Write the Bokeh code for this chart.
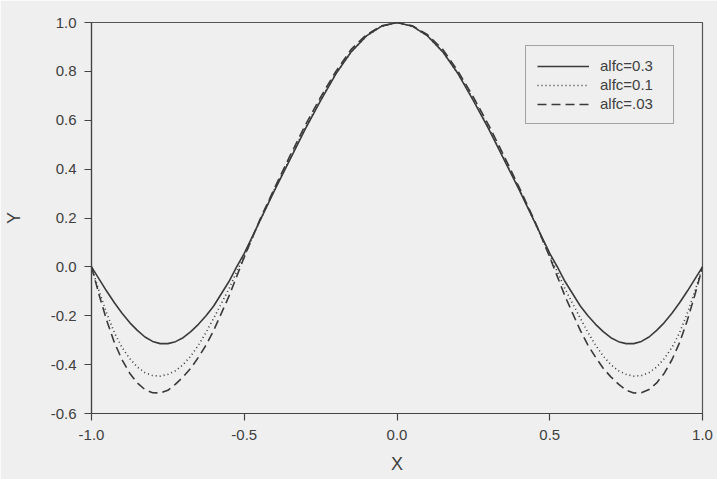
from bokeh.plotting import figure
from bokeh.models import ColumnDataSource, Legend, LegendItem, FixedTicker, Range1d
from bokeh.embed import file_html
from bokeh.resources import INLINE

# ---- data ----
x_vals = [-1.0, -0.975, -0.95, -0.925, -0.9, -0.875, -0.85, -0.825, -0.8, -0.775,
          -0.75, -0.725, -0.7, -0.675, -0.65, -0.625, -0.6, -0.575, -0.55, -0.525,
          -0.5, -0.45, -0.4, -0.35, -0.3, -0.25, -0.2, -0.15, -0.1, -0.05, 0.0,
          0.05, 0.1, 0.15, 0.2, 0.25, 0.3, 0.35, 0.4, 0.45, 0.5,
          0.525, 0.55, 0.575, 0.6, 0.625, 0.65, 0.675, 0.7, 0.725, 0.75,
          0.775, 0.8, 0.825, 0.85, 0.875, 0.9, 0.925, 0.95, 0.975, 1.0]

y_alfc_03 = [0.0, -0.05, -0.1, -0.147, -0.19, -0.228, -0.26, -0.287, -0.305, -0.314,
             -0.314, -0.306, -0.29, -0.265, -0.235, -0.2, -0.16, -0.11, -0.06, 0.0,
             0.055, 0.185, 0.315, 0.44, 0.565, 0.68, 0.79, 0.88, 0.945, 0.985, 1.0,
             0.985, 0.945, 0.88, 0.79, 0.68, 0.565, 0.44, 0.315, 0.185, 0.055,
             0.0, -0.06, -0.11, -0.16, -0.2, -0.235, -0.265, -0.29, -0.306, -0.314,
             -0.314, -0.305, -0.287, -0.26, -0.228, -0.19, -0.147, -0.1, -0.05, 0.0]

y_alfc_01 = [0.0, -0.1, -0.19, -0.27, -0.33, -0.375, -0.41, -0.433, -0.445, -0.447,
             -0.44, -0.425, -0.4, -0.365, -0.32, -0.268, -0.21, -0.15, -0.09, -0.02,
             0.045, 0.185, 0.32, 0.445, 0.57, 0.685, 0.79, 0.88, 0.945, 0.985, 1.0,
             0.985, 0.945, 0.88, 0.79, 0.685, 0.57, 0.445, 0.32, 0.185, 0.045,
             -0.02, -0.09, -0.15, -0.21, -0.268, -0.32, -0.365, -0.4, -0.425, -0.44,
             -0.447, -0.445, -0.433, -0.41, -0.375, -0.33, -0.27, -0.19, -0.1, 0.0]

y_alfc_003 = [0.0, -0.115, -0.22, -0.31, -0.38, -0.435, -0.475, -0.502, -0.515, -0.516,
              -0.505, -0.48, -0.45, -0.415, -0.37, -0.32, -0.26, -0.19, -0.12, -0.04,
              0.04, 0.19, 0.325, 0.455, 0.58, 0.695, 0.8, 0.89, 0.95, 0.987, 1.0,
              0.987, 0.95, 0.89, 0.8, 0.695, 0.58, 0.455, 0.325, 0.19, 0.04,
              -0.04, -0.12, -0.19, -0.26, -0.32, -0.37, -0.415, -0.45, -0.48, -0.505,
              -0.516, -0.515, -0.502, -0.475, -0.435, -0.38, -0.31, -0.22, -0.115, 0.0]

series_labels = ["alfc=0.3", "alfc=0.1", "alfc=.03"]
x_ticks = [-1.0, -0.5, 0.0, 0.5, 1.0]
y_ticks = [-0.6, -0.4, -0.2, 0.0, 0.2, 0.4, 0.6, 0.8, 1.0]

BG = "#efefef"
INK = "#3a3a3a"
TXT = "#404040"
FONT = "Liberation Sans"

p = figure(width=717, height=479, output_backend="svg", toolbar_location=None,
           x_range=Range1d(-1.0, 1.0), y_range=Range1d(-0.6, 1.0),
           min_border_left=91, min_border_right=15, min_border_top=22, min_border_bottom=66)

p.background_fill_color = BG
p.border_fill_color = BG
p.outline_line_color = "#555555"
p.outline_line_width = 1.2
p.grid.visible = False

src = ColumnDataSource(dict(x=x_vals, a=y_alfc_03, b=y_alfc_01, c=y_alfc_003))
r1 = p.line("x", "a", source=src, line_color=INK, line_width=1.6)
r2 = p.line("x", "b", source=src, line_color=INK, line_width=1.6, line_dash="1 3")
r3 = p.line("x", "c", source=src, line_color=INK, line_width=1.6, line_dash="9 5")

for ax in (p.xaxis[0], p.yaxis[0]):
    ax.axis_line_color = "#444444"
    ax.axis_line_width = 1.2
    ax.major_tick_line_color = "#444444"
    ax.major_tick_line_width = 1.2
    ax.major_tick_in = 0
    ax.major_tick_out = 7
    ax.minor_tick_line_color = None
    ax.major_label_text_font = FONT
    ax.major_label_text_font_size = "15px"
    ax.major_label_text_color = TXT
    ax.axis_label_text_font = FONT
    ax.axis_label_text_font_size = "18px"
    ax.axis_label_text_font_style = "normal"
    ax.axis_label_text_color = TXT

p.xaxis[0].ticker = FixedTicker(ticks=x_ticks)
p.yaxis[0].ticker = FixedTicker(ticks=y_ticks)
p.xaxis[0].major_label_overrides = {t: f"{t:.1f}" for t in x_ticks}
p.yaxis[0].major_label_overrides = {t: f"{t:.1f}" for t in y_ticks}
p.xaxis[0].major_label_standoff = 9
p.yaxis[0].major_label_standoff = 8
p.xaxis[0].axis_label = "X"
p.yaxis[0].axis_label = "Y"
p.xaxis[0].axis_label_standoff = 11
p.yaxis[0].axis_label_standoff = 24

legend = Legend(items=[LegendItem(label=series_labels[0], renderers=[r1]),
                       LegendItem(label=series_labels[1], renderers=[r2]),
                       LegendItem(label=series_labels[2], renderers=[r3])],
                location=(434, 289))
legend.background_fill_color = BG
legend.background_fill_alpha = 1.0
legend.border_line_color = "#555555"
legend.border_line_width = 1.2
legend.label_text_font = FONT
legend.label_text_font_size = "15px"
legend.label_text_color = TXT
legend.glyph_width = 52
legend.glyph_height = 16
legend.label_height = 16
legend.label_width = 62
legend.label_standoff = 11
legend.spacing = 2
legend.padding = 11
legend.margin = 0
p.add_layout(legend, "center")

open("out.html", "w").write(file_html(p, INLINE))
